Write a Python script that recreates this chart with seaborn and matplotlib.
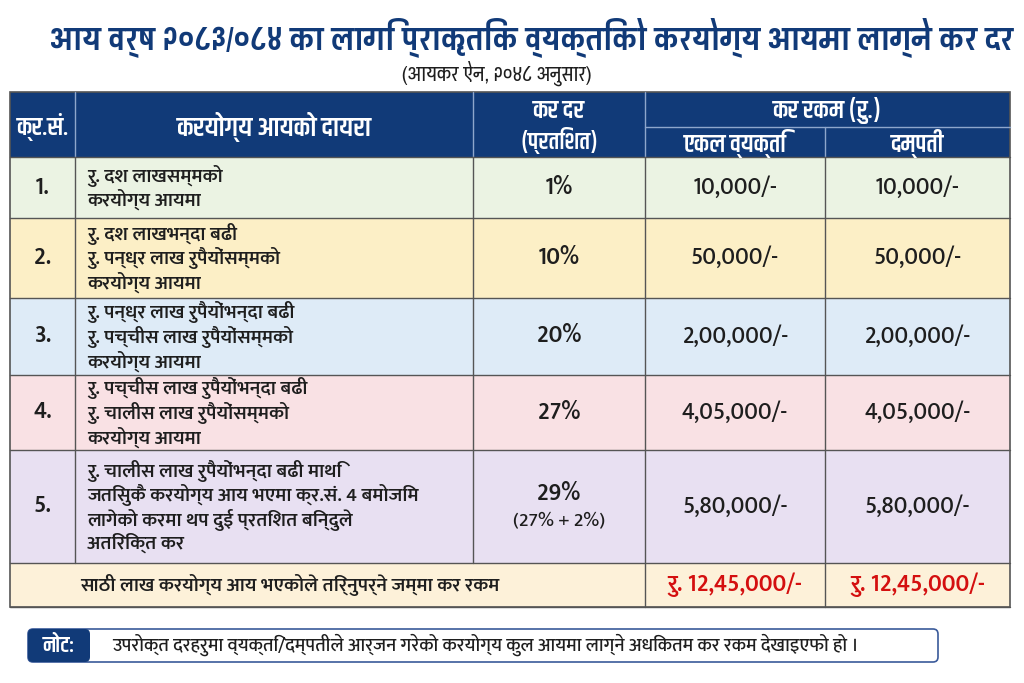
import matplotlib
matplotlib.use("Agg")
import matplotlib.pyplot as plt
from matplotlib.patches import Rectangle, FancyBboxPatch
import seaborn as sns
import pandas as pd

# --- Datos de la tabla ---
titulo = "आय वर्ष २०८३/०८४ का लागि प्राकृतिक व्यक्तिको करयोग्य आयमा लाग्ने कर दर"
subtitulo = "(आयकर ऐन, २०४८ अनुसार)"
encabezados = ["क्र.सं.", "करयोग्य आयको दायरा", "कर दर", "(प्रतिशत)", "कर रकम (रु.)", "एकल व्यक्ति", "दम्पती"]
numeros = ["1.", "2.", "3.", "4.", "5."]
dayara = [
    "रु. दश लाखसम्मको\nकरयोग्य आयमा",
    "रु. दश लाखभन्दा बढी\nरु. पन्ध्र लाख रुपैयोंसम्मको\nकरयोग्य आयमा",
    "रु. पन्ध्र लाख रुपैयोंभन्दा बढी\nरु. पच्चीस लाख रुपैयोंसम्मको\nकरयोग्य आयमा",
    "रु. पच्चीस लाख रुपैयोंभन्दा बढी\nरु. चालीस लाख रुपैयोंसम्मको\nकरयोग्य आयमा",
    "रु. चालीस लाख रुपैयोंभन्दा बढी माथि\nजतिसुकै करयोग्य आय भएमा क्र.सं. 4 बमोजिम\nलागेको करमा थप दुई प्रतिशत बिन्दुले\nअतिरिक्त कर",
]
kar_dar = ["1%", "10%", "20%", "27%", "29%"]
kar_dar_nota = ["", "", "", "", "(27% + 2%)"]
ekal = ["10,000/-", "50,000/-", "2,00,000/-", "4,05,000/-", "5,80,000/-"]
dampati = ["10,000/-", "50,000/-", "2,00,000/-", "4,05,000/-", "5,80,000/-"]
total_label = "साठी लाख करयोग्य आय भएकोले तिर्नुपर्ने जम्मा कर रकम"
total_ekal = "रु. 12,45,000/-"
total_dampati = "रु. 12,45,000/-"
nota_label = "नोट:"
nota_texto = "उपरोक्त दरहरुमा व्यक्ति/दम्पतीले आर्जन गरेको करयोग्य कुल आयमा लाग्ने अधिकतम कर रकम देखाइएफो हो ।"

df = pd.DataFrame({"num": numeros, "dayara": dayara, "dar": kar_dar,
                   "nota": kar_dar_nota, "ekal": ekal, "dampati": dampati})

# --- Estilo ---
sns.set_theme(style="white")
CUERPO = ["Mukta", "Ek Mukta", "Noto Sans Devanagari", "DejaVu Sans"]
TITULO = ["Pragati Narrow", "Noto Sans Devanagari", "DejaVu Sans"]
CABECERA = ["Khand", "Pragati Narrow", "Noto Sans Devanagari", "DejaVu Sans"]
plt.rcParams["font.family"] = CUERPO

azul = "#113a78"
colores_fila = ["#ebf3e3", "#fcefc6", "#deebf7", "#f9e1e4", "#e8e0f2"]
color_total = "#fdf1d9"
rojo = "#d40f0f"
linea = "#555555"
texto = "#1e1e1e"

# --- Geometría (pixeles) ---
cols = [10, 75, 473, 645, 825, 1010]
y_head = [92, 127, 157]
filas = [157, 218, 298, 375, 450, 563]
y_total = [563, 607]

fig = plt.figure(figsize=(10.24, 6.83), dpi=100)
ax = fig.add_axes([0, 0, 1, 1])
ax.set_xlim(0, 1024)
ax.set_ylim(683, 0)
ax.axis("off")

# Título
ax.text(532, 37, titulo, ha="center", va="center", fontsize=25, fontweight="bold",
        color=azul, family=TITULO)
ax.text(497, 73, subtitulo, ha="center", va="center", fontsize=16, color=texto,
        family=TITULO)

# Encabezado
ax.add_patch(Rectangle((cols[0], y_head[0]), cols[-1] - cols[0], y_head[2] - y_head[0],
                       facecolor=azul, edgecolor="none"))
for x in cols[1:4]:
    ax.plot([x, x], [y_head[0], y_head[2]], color="#8ea6cc", lw=1)
ax.plot([cols[4], cols[4]], [y_head[1], y_head[2]], color="#8ea6cc", lw=1)
ax.plot([cols[3], cols[5]], [y_head[1], y_head[1]], color="#8ea6cc", lw=1)
hkw = dict(ha="center", va="center", color="white", family=CABECERA, fontweight="semibold")
ax.text((cols[0] + cols[1]) / 2, 127, encabezados[0], fontsize=18, **hkw)
ax.text((cols[1] + cols[2]) / 2, 127, encabezados[1], fontsize=19.5, **hkw)
ax.text((cols[2] + cols[3]) / 2, 110, encabezados[2], fontsize=18, **hkw)
ax.text((cols[2] + cols[3]) / 2, 140, encabezados[3], fontsize=17, **hkw)
ax.text((cols[3] + cols[5]) / 2, 110, encabezados[4], fontsize=18, **hkw)
ax.text((cols[3] + cols[4]) / 2, 143, encabezados[5], fontsize=18, **hkw)
ax.text((cols[4] + cols[5]) / 2, 143, encabezados[6], fontsize=18, **hkw)

# Filas
for i, fila in df.iterrows():
    y0, y1 = filas[i], filas[i + 1]
    ym = (y0 + y1) / 2
    ax.add_patch(Rectangle((cols[0], y0), cols[-1] - cols[0], y1 - y0,
                           facecolor=colores_fila[i], edgecolor="none"))
    ax.text((cols[0] + cols[1]) / 2, ym, fila["num"], ha="center", va="center",
            fontsize=17, fontweight="semibold", color=texto)
    ax.text(cols[1] + 12, ym, fila["dayara"], ha="left", va="center", fontsize=14,
            fontweight="semibold", color=texto, linespacing=1.15)
    if fila["nota"]:
        ax.text((cols[2] + cols[3]) / 2, ym - 12, fila["dar"], ha="center", va="center",
                fontsize=17, fontweight="semibold", color=texto)
        ax.text((cols[2] + cols[3]) / 2, ym + 15, fila["nota"], ha="center", va="center",
                fontsize=14, fontweight="medium", color=texto)
    else:
        ax.text((cols[2] + cols[3]) / 2, ym, fila["dar"], ha="center", va="center",
                fontsize=17, fontweight="semibold", color=texto)
    ax.text((cols[3] + cols[4]) / 2, ym, fila["ekal"], ha="center", va="center",
            fontsize=17, fontweight="medium", color=texto)
    ax.text((cols[4] + cols[5]) / 2, ym, fila["dampati"], ha="center", va="center",
            fontsize=17, fontweight="medium", color=texto)

# Fila total
ax.add_patch(Rectangle((cols[0], y_total[0]), cols[-1] - cols[0], y_total[1] - y_total[0],
                       facecolor=color_total, edgecolor="none"))
yt = sum(y_total) / 2
ax.text(290, yt, total_label, ha="center", va="center", fontsize=14, fontweight="semibold",
        color=texto)
ax.text((cols[3] + cols[4]) / 2, yt, total_ekal, ha="center", va="center", fontsize=17,
        fontweight="semibold", color=rojo)
ax.text((cols[4] + cols[5]) / 2, yt, total_dampati, ha="center", va="center", fontsize=17,
        fontweight="semibold", color=rojo)

# Líneas de la tabla
for y in filas + [y_total[1]]:
    ax.plot([cols[0], cols[-1]], [y, y], color=linea, lw=1)
for x in cols[1:-1]:
    ax.plot([x, x], [filas[0], filas[-1]], color=linea, lw=1)
for x in cols[3:5]:
    ax.plot([x, x], [y_total[0], y_total[1]], color=linea, lw=1)
ax.add_patch(Rectangle((cols[0], y_head[0]), cols[-1] - cols[0], y_total[1] - y_head[0],
                       facecolor="none", edgecolor=linea, lw=1.2))

# Nota
ax.add_patch(FancyBboxPatch((28, 629), 910, 33, boxstyle="round,pad=0,rounding_size=5",
                            facecolor="white", edgecolor="#3a5a9a", lw=1.2))
ax.add_patch(FancyBboxPatch((28, 629), 62, 33, boxstyle="round,pad=0,rounding_size=5",
                            facecolor=azul, edgecolor="none"))
ax.text(59, 645, nota_label, ha="center", va="center", fontsize=16, fontweight="semibold",
        color="white", family=CABECERA)
ax.text(112, 645, nota_texto, ha="left", va="center", fontsize=13.5, color=texto,
        fontweight="medium")

fig.savefig("out.png", dpi=100)
